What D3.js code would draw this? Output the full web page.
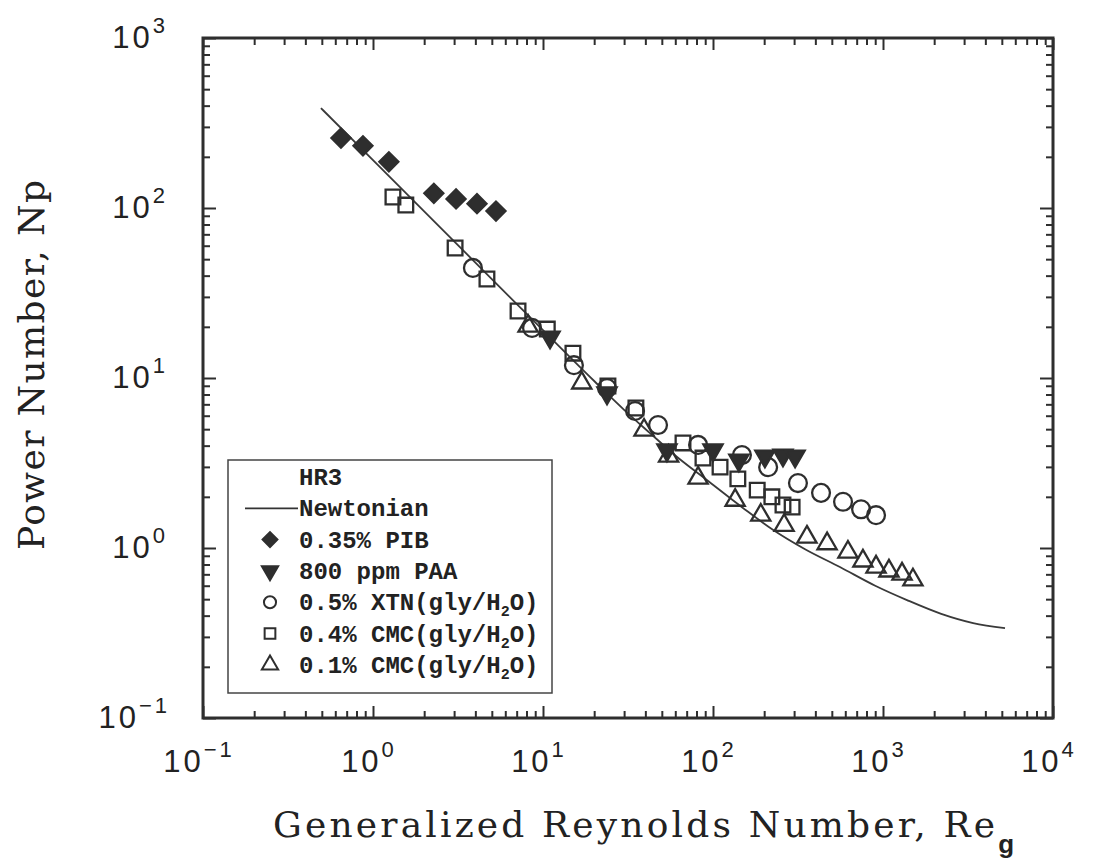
<!DOCTYPE html>
<html>
<head>
<meta charset="utf-8">
<script src="https://cdn.jsdelivr.net/npm/d3@7"></script>
<style>
  body { margin: 0; background: #fff; }
  svg { display: block; }
</style>
</head>
<body>
<svg id="chart"></svg>
<script>
// data: [Re_g, Np]
const newtonian = [[0.494, 387], [1, 191], [2, 95.5], [5, 38.2], [10, 19.1], [20, 9.6], [30, 6.5], [42.6, 4.74], [60, 3.5], [92, 2.51], [150, 1.72], [225, 1.28], [350, 0.98], [558, 0.773], [900, 0.6], [1384, 0.494], [2200, 0.41], [3390, 0.362], [5220, 0.338]]
const pib = [[0.648, 258], [0.873, 232], [1.24, 187], [2.28, 122], [3.08, 113], [4.09, 106], [5.29, 96]]
const paa = [[11.0, 17.4], [23.8, 8.16], [53.6, 3.77], [100, 3.77], [142, 3.29], [202, 3.47], [258, 3.52], [304, 3.47]]
const xtn = [[3.87, 44.4], [8.62, 19.7], [15.2, 11.9], [23.8, 8.73], [34.8, 6.4], [47.5, 5.29], [81.7, 4.04], [148, 3.52], [211, 2.99], [316, 2.41], [432, 2.11], [582, 1.87], [743, 1.69], [910, 1.56]]
const cmc04 = [[1.31, 116], [1.56, 104], [3.04, 58.2], [4.68, 38.2], [7.13, 24.8], [10.6, 19.4], [15.0, 14.0], [24.1, 8.98], [35.2, 6.66], [66.6, 4.15], [87.3, 3.38], [110, 2.99], [140, 2.55], [182, 2.19], [222, 2.0], [258, 1.79], [292, 1.74]]
const cmc01 = [[8.17, 20.2], [16.9, 9.35], [39.3, 4.94], [54.8, 3.47], [81.7, 2.58], [135, 1.91], [191, 1.56], [262, 1.36], [357, 1.16], [469, 1.06], [622, 0.946], [762, 0.839], [910, 0.773], [1084, 0.733], [1294, 0.703], [1500, 0.65]]

const xTickExp = [-1, 0, 1, 2, 3, 4]
const yTickExp = [-1, 0, 1, 2, 3]

const legendTitle = "HR3"
const legendNames = ["Newtonian", "0.35% PIB", "800 ppm PAA", "0.5% XTN(gly/H", "0.4% CMC(gly/H", "0.1% CMC(gly/H"]

//dimensions
const w = 1095
const h = 867
const margin = { left: 203, right: 1053, top: 38, bottom: 718 }
const ink = '#2e2e2e'
const titleFont = 'DejaVu Serif, serif'

const svg = d3.select('#chart').attr('width', w).attr('height', h)
svg.append('rect').attr('width', w).attr('height', h).attr('fill', '#fff')

//scales
const xScale = d3.scaleLog().domain([0.1, 1e4]).range([margin.left, margin.right])
const yScale = d3.scaleLog().domain([0.1, 1e3]).range([margin.bottom, margin.top])

const majX = xTickExp.map(e => Math.pow(10, e))
const majY = yTickExp.map(e => Math.pow(10, e))
const minorOf = majors => {
    const out = []
    majors.slice(0, -1).forEach(m => { for (let k = 2; k <= 9; k++) out.push(m * k) })
    return out
}
const minX = minorOf(majX)
const minY = minorOf(majY)

//ticks, inward on all four sides
const tickAxis = (fn, scale, vals, len, tr) => {
    const g = svg.append('g')
        .attr('transform', tr)
        .call(fn(scale).tickValues(vals).tickSize(-len).tickFormat(''))
    g.select('.domain').remove()
    g.selectAll('line').attr('stroke', ink).attr('stroke-width', 2)
}
tickAxis(d3.axisBottom, xScale, majX, 12, `translate(0,${margin.bottom})`)
tickAxis(d3.axisBottom, xScale, minX, 7, `translate(0,${margin.bottom})`)
tickAxis(d3.axisTop, xScale, majX, 12, `translate(0,${margin.top})`)
tickAxis(d3.axisTop, xScale, minX, 7, `translate(0,${margin.top})`)
tickAxis(d3.axisLeft, yScale, majY, 13, `translate(${margin.left},0)`)
tickAxis(d3.axisLeft, yScale, minY, 7, `translate(${margin.left},0)`)
tickAxis(d3.axisRight, yScale, majY, 13, `translate(${margin.right},0)`)
tickAxis(d3.axisRight, yScale, minY, 7, `translate(${margin.right},0)`)

//frame
svg.append('rect')
    .attr('x', margin.left).attr('y', margin.top)
    .attr('width', margin.right - margin.left).attr('height', margin.bottom - margin.top)
    .attr('fill', 'none').attr('stroke', ink).attr('stroke-width', 3)

//tick labels
const powLabel = (sel, e) => {
    sel.append('tspan').text('10')
    sel.append('tspan').attr('dy', -15).attr('font-size', 22).text(e < 0 ? '\u2212' + (-e) : e)
}
xTickExp.forEach(e => {
    svg.append('text')
        .attr('x', xScale(Math.pow(10, e)) - 4)
        .attr('y', 772)
        .attr('text-anchor', 'middle')
        .attr('font-family', 'Liberation Sans, Arial, sans-serif')
        .attr('font-size', 31)
        .attr('letter-spacing', 3)
        .attr('fill', '#222')
        .call(powLabel, e)
})
yTickExp.forEach(e => {
    svg.append('text')
        .attr('x', e < 0 ? 170 : 168)
        .attr('y', yScale(Math.pow(10, e)) + 10)
        .attr('text-anchor', 'end')
        .attr('font-family', 'Liberation Sans, Arial, sans-serif')
        .attr('font-size', 31)
        .attr('letter-spacing', 3)
        .attr('fill', '#222')
        .call(powLabel, e)
})

//axis titles
const xt = svg.append('text')
    .attr('x', 273).attr('y', 837)
    .attr('font-family', titleFont)
    .attr('font-size', 36)
    .attr('fill', '#222')
xt.append('tspan').attr('textLength', 722).attr('lengthAdjust', 'spacing')
    .text('Generalized Reynolds Number, Re')
xt.append('tspan').attr('dy', 16).attr('font-size', 26).attr('font-weight', 'bold')
    .attr('font-family', 'Liberation Sans, Arial, sans-serif').text('g')

svg.append('text')
    .attr('transform', 'translate(44,365) rotate(-90)')
    .attr('text-anchor', 'middle')
    .attr('font-family', titleFont)
    .attr('font-size', 36)
    .attr('textLength', 370).attr('lengthAdjust', 'spacing')
    .attr('fill', '#222')
    .text('Power Number, Np')

//symbols
const sym = {
    diamond: { type: d3.symbolSquare, fill: ink, rot: 45 },
    down: { type: d3.symbolTriangle, fill: ink, rot: 180 },
    circle: { type: d3.symbolCircle, fill: 'none' },
    square: { type: d3.symbolSquare, fill: 'none' },
    up: { type: d3.symbolTriangle, fill: 'none' }
}
const series = [
    { data: pib, s: 'diamond', size: 180 },
    { data: cmc04, s: 'square', size: 215 },
    { data: xtn, s: 'circle', size: 250 },
    { data: cmc01, s: 'up', size: 160 },
    { data: paa, s: 'down', size: 160 }
]

//newtonian curve
const line = d3.line()
    .x(d => xScale(d[0]))
    .y(d => yScale(d[1]))
    .curve(d3.curveMonotoneX)
svg.append('path')
    .attr('d', line(newtonian))
    .attr('fill', 'none')
    .attr('stroke', '#3a3a3a')
    .attr('stroke-width', 1.8)

series.forEach(sr => {
    const st = sym[sr.s]
    svg.append('g').selectAll('path')
        .data(sr.data)
        .join('path')
        .attr('d', d3.symbol().type(st.type).size(sr.size))
        .attr('transform', d => `translate(${xScale(d[0])},${yScale(d[1])})` + (st.rot ? ` rotate(${st.rot})` : ''))
        .attr('fill', st.fill)
        .attr('stroke', ink)
        .attr('stroke-width', 2.3)
})

//legend
const lg = svg.append('g')
lg.append('rect')
    .attr('x', 228).attr('y', 460).attr('width', 324).attr('height', 233)
    .attr('fill', '#fff').attr('stroke', '#444').attr('stroke-width', 1.5)
const lgFont = 'Liberation Mono, Courier New, monospace'
const rowY = i => 485 + 31.3 * i
lg.append('text').attr('x', 299).attr('y', rowY(0))
    .attr('font-family', lgFont).attr('font-size', 24).attr('font-weight', 'bold').attr('fill', '#222')
    .text(legendTitle)
const legendSym = ['line', 'diamond', 'down', 'circle', 'square', 'up']
legendNames.forEach((name, i) => {
    const y = rowY(i + 1)
    const t = lg.append('text').attr('x', 299).attr('y', y)
        .attr('font-family', lgFont).attr('font-size', 24).attr('font-weight', 'bold').attr('fill', '#222')
    t.append('tspan').text(name)
    if (i >= 3) {
        t.append('tspan').attr('dy', 6).attr('font-size', 15).text('2')
        t.append('tspan').attr('dy', -6).text('O)')
    }
    const k = legendSym[i]
    if (k === 'line') {
        lg.append('line').attr('x1', 245).attr('x2', 298).attr('y1', y - 8).attr('y2', y - 8)
            .attr('stroke', '#333').attr('stroke-width', 1.8)
    } else {
        const st = sym[k]
        lg.append('path')
            .attr('d', d3.symbol().type(st.type).size(k === 'diamond' ? 110 : 115))
            .attr('transform', `translate(270,${y - 8})` + (st.rot ? ` rotate(${st.rot})` : ''))
            .attr('fill', st.fill).attr('stroke', ink).attr('stroke-width', 2)
    }
})
</script>
</body>
</html>
